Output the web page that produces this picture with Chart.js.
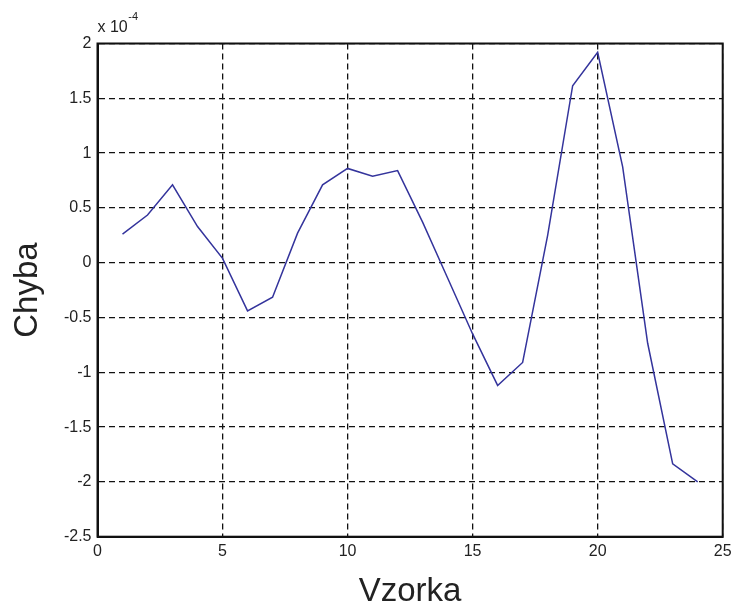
<!DOCTYPE html>
<html>
<head>
<meta charset="utf-8">
<script src="https://cdn.jsdelivr.net/npm/chart.js@4"></script>
<style>
  html, body { margin: 0; padding: 0; background: #fff; }
  #wrap { width: 734px; height: 608px; }
</style>
</head>
<body>
<div id="wrap"><canvas id="errChart" width="734" height="608"></canvas></div>
<script>
// sample index and error value (in units of 1e-4)
const samples = [1, 2, 3, 4, 5, 6, 7, 8, 9, 10, 11, 12, 13, 14, 15, 16, 17, 18, 19, 20, 21, 22, 23, 24];
const errors = [0.26, 0.435, 0.71, 0.33, 0.04, -0.44, -0.315, 0.27, 0.71, 0.86, 0.79, 0.84,
                0.37, -0.14, -0.65, -1.12, -0.91, 0.25, 1.615, 1.92, 0.875, -0.735, -1.835, -2.0];
const xTicks = [0, 5, 10, 15, 20, 25];
const yTicks = [-2.5, -2, -1.5, -1, -0.5, 0, 0.5, 1, 1.5, 2];
const yExponent = '-4';

const FONT = "'Liberation Sans', Arial, Helvetica, sans-serif";

// box round the plot + the "x 10^-4" label above the y axis
const matlabBox = {
    id: 'matlabBox',
    afterDraw(chart) {
        const { ctx, chartArea: a } = chart;
        ctx.save();
        ctx.strokeStyle = '#111';
        ctx.lineWidth = 2;
        ctx.setLineDash([]);
        ctx.strokeRect(a.left, a.top, a.right - a.left, a.bottom - a.top);

        ctx.fillStyle = '#222';
        ctx.textBaseline = 'alphabetic';
        ctx.textAlign = 'left';
        ctx.font = '16px ' + FONT;
        ctx.fillText('x 10', a.left, 31.5);
        const w = ctx.measureText('x 10').width;
        ctx.font = '11px ' + FONT;
        ctx.fillText(yExponent, a.left + w + 0.5, 20);
        ctx.restore();
    }
};

const grid = {
    color: '#111',
    lineWidth: 1.3,
    drawTicks: false
};
// in v4 the grid line dash comes from border.dash
const border = { display: true, color: '#111', width: 2, dash: [6, 4] };

new Chart(document.getElementById('errChart'), {
    type: 'line',
    data: {
        datasets: [{
            data: samples.map((x, i) => ({ x: x, y: errors[i] })),
            borderColor: 'rgb(52, 52, 156)',
            borderWidth: 1.5,
            pointRadius: 0,
            tension: 0,
            fill: false
        }]
    },
    options: {
        responsive: false,
        animation: false,
        layout: { padding: { top: 43.5, right: 11.3, left: 0, bottom: 0 } },
        plugins: { legend: { display: false }, tooltip: { enabled: false } },
        scales: {
            x: {
                type: 'linear',
                min: 0, max: 25,
                afterBuildTicks: s => { s.ticks = xTicks.map(v => ({ value: v })); },
                afterFit: s => { s.height = 71.3; s.paddingLeft = 0; s.paddingRight = 0; },
                grid: grid,
                border: border,
                ticks: {
                    color: '#222', padding: 5,
                    font: { family: FONT, size: 16 },
                    maxRotation: 0,
                    callback: v => String(v)
                },
                title: {
                    display: true, text: 'Vzorka', color: '#222',
                    font: { family: FONT, size: 33, lineHeight: 1 },
                    padding: { top: 0, bottom: 0 }
                }
            },
            y: {
                min: -2.5, max: 2,
                afterBuildTicks: s => { s.ticks = yTicks.map(v => ({ value: v })); },
                afterFit: s => { s.width = 97.5; s.paddingTop = 0; s.paddingBottom = 0; },
                grid: grid,
                border: border,
                ticks: {
                    color: '#222', padding: 6,
                    font: { family: FONT, size: 16 },
                    callback: v => String(v)
                },
                title: {
                    display: true, text: 'Chyba', color: '#222',
                    font: { family: FONT, size: 33, lineHeight: 1 },
                    padding: { top: 11.5, bottom: 0 }
                }
            }
        }
    },
    plugins: [matlabBox]
});
</script>
</body>
</html>
